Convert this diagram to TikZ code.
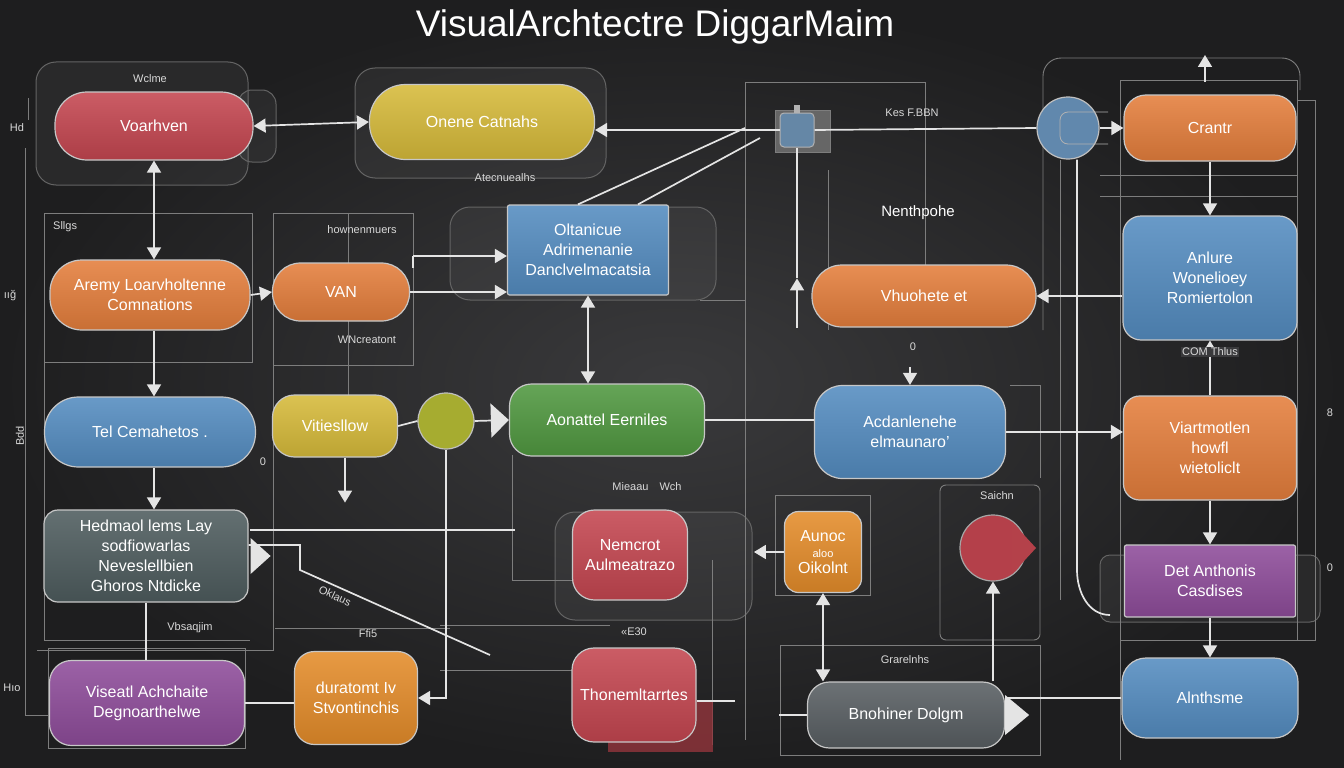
\documentclass[tikz,border=0pt]{standalone}
\usepackage{fontspec}
\setmainfont{Liberation Sans}
\usetikzlibrary{arrows.meta,positioning}
\definecolor{bgin}{RGB}{58,58,60}
\definecolor{bgout}{RGB}{30,30,31}
\definecolor{cRed}{RGB}{196,70,80}
\definecolor{cYel}{RGB}{214,186,58}
\definecolor{cOra}{RGB}{228,126,60}
\definecolor{cAmb}{RGB}{228,140,42}
\definecolor{cBlu}{RGB}{84,140,192}
\definecolor{cGrn}{RGB}{80,152,64}
\definecolor{cPur}{RGB}{142,76,154}
\definecolor{cSla}{RGB}{78,92,94}
\definecolor{cGry}{RGB}{88,94,98}
\definecolor{cOli}{RGB}{166,172,48}
\definecolor{wirec}{RGB}{228,228,228}
\definecolor{faint}{RGB}{125,125,125}

\begin{document}
\begin{tikzpicture}[x=1pt,y=-1pt,
    box/.style={rectangle,rounded corners=16pt,draw=white!78!black,line width=1.2pt,
      top color=#1!88!white,bottom color=#1!88!black,text=white,align=center,
      inner sep=2pt,font=\fontsize{16}{20}\selectfont},
    wire/.style={draw=wirec,line width=1.7pt},
    arr/.style={wire,-{Triangle[length=12pt,width=14pt]}},
    darr/.style={wire,{Triangle[length=12pt,width=14pt]}-{Triangle[length=12pt,width=14pt]}},
    frame/.style={draw=faint,line width=0.9pt},
    shell/.style={draw=faint!80!black,fill=white,fill opacity=0.05,rounded corners=20pt,line width=1pt},
    tag/.style={text=white!85!black,font=\fontsize{11}{13}\selectfont,inner sep=1pt}]

  \useasboundingbox (0,0) rectangle (1344,768);
  \shade[inner color=bgin,outer color=bgout] (0,0) rectangle (1344,768);

  \node[text=white,font=\fontsize{37}{40}\selectfont] (title) at (655,27) {VisualArchtectre DiggarMaim};

  \draw[shell] (36,62) rectangle (248,185);
  \draw[shell,rounded corners=14pt] (238,90) rectangle (276,162);
  \draw[shell] (355,68) rectangle (606,178);
  \draw[shell] (450,207) rectangle (716,300);
  \draw[shell] (555,512) rectangle (752,620);
  \draw[shell,rounded corners=10pt] (1100,555) rectangle (1320,622);
  \draw[frame] (25,148) -- (25,715) -- (50,715);
  \draw[frame] (28,98) -- (28,120);
  \draw[frame] (44,213) rectangle (252,362);
  \draw[frame] (44,362) -- (44,640) -- (250,640);
  \draw[frame] (273,213) rectangle (413,365);
  \draw[frame] (273,365) -- (273,650) -- (37,650);
  \draw[frame] (348,213) -- (348,395);
  \draw[frame] (48,648) rectangle (245,748);
  \draw[frame] (745,82) -- (925,82) -- (925,265);
  \draw[frame] (745,82) -- (745,740);
  \draw[frame] (828,170) -- (828,330);
  \draw[frame,rounded corners=18pt] (1043,330) -- (1043,58) -- (1300,58) -- (1300,90);
  \draw[frame] (1120,80) rectangle (1297,640);
  \draw[frame] (1297,100) -- (1315,100) -- (1315,640) -- (1297,640);
  \draw[frame] (1120,640) -- (1120,760);
  \draw[frame] (1100,175) -- (1297,175);
  \draw[frame] (1100,196) -- (1297,196);
  \draw[frame,rounded corners=6pt] (940,485) rectangle (1040,640);
  \draw[frame] (775,495) rectangle (870,595);
  \draw[frame] (780,645) rectangle (1040,755);
  \draw[frame] (512,455) -- (512,580) -- (575,580);
  \draw[frame] (440,625) -- (610,625);
  \draw[frame] (440,670) -- (575,670);
  \draw[frame] (700,300) -- (745,300);
  \draw[frame] (712,560) -- (712,745);
  \draw[frame] (275,628) -- (450,628);
  \draw[frame] (1060,160) -- (1060,600);
  \draw[frame] (1010,385) -- (1040,385) -- (1040,478);
  \fill[cRed!75!black,opacity=0.8] (608,700) rectangle (713,752);

  \node[box=cRed,rounded corners=32pt,minimum width=198pt,minimum height=68pt] (voar) at (154,126) {Voarhven};
  \node[box=cYel,rounded corners=36pt,minimum width=225pt,minimum height=75pt] (onen) at (482,122) {Onene Catnahs};
  \node[box=cOra,rounded corners=22pt,minimum width=172pt,minimum height=66pt] (cant) at (1210,128) {Crantr};
  \node[box=cOra,rounded corners=32pt,minimum width=200pt,minimum height=70pt] (aremy) at (150,295) {Aremy Loarvholtenne\\Comnations};
  \node[box=cOra,rounded corners=28pt,minimum width=137pt,minimum height=58pt] (van) at (341,292) {VAN};
  \node[box=cBlu,rounded corners=2pt,minimum width=161pt,minimum height=90pt] (olt) at (588,250) {Oltanicue\\Adrimenanie\\Danclvelmacatsia};
  \node[box=cOra,rounded corners=30pt,minimum width=224pt,minimum height=62pt] (vhu) at (924,296) {Vhuohete et};
  \node[box=cBlu,rounded corners=18pt,minimum width=174pt,minimum height=124pt] (anl) at (1210,278) {Anlure\\Wonelioey\\Romiertolon};
  \node[box=cBlu,rounded corners=34pt,minimum width=211pt,minimum height=70pt] (tel) at (150,432) {Tel Cemahetos .};
  \node[box=cYel,rounded corners=22pt,minimum width=125pt,minimum height=62pt] (vit) at (335,426) {Vitiesllow};
  \node[circle,draw=white!75!black,line width=1.2pt,fill=cOli,minimum size=56pt,inner sep=0pt] (oli) at (446,421) {};
  \node[box=cGrn,rounded corners=22pt,minimum width=195pt,minimum height=72pt] (aon) at (607,420) {Aonattel Eerniles};
  \node[box=cBlu,rounded corners=28pt,minimum width=191pt,minimum height=93pt] (acd) at (910,432) {Acdanlenehe\\elmaunaro'};
  \node[box=cOra,rounded corners=16pt,minimum width=173pt,minimum height=104pt] (via) at (1210,448) {Viartmotlen\\howfl\\wietoliclt};
  \node[box=cSla,rounded corners=14pt,minimum width=204pt,minimum height=92pt] (hed) at (146,556) {Hedmaol lems Lay\\sodfiowarlas\\Neveslellbien\\Ghoros Ntdicke};
  \node[box=cRed,rounded corners=22pt,minimum width=115pt,minimum height=90pt] (nem) at (630,555) {Nemcrot\\Aulmeatrazo};
  \node[box=cAmb,rounded corners=14pt,minimum width=77pt,minimum height=81pt] (aun) at (823,552) {Aunoc\\[-4pt]{\fontsize{11}{12}\selectfont aloo}\\[-4pt]Oikolnt};
  \node[circle,draw=white!65!black,line width=1.2pt,fill=cRed!92!black,minimum size=66pt,inner sep=0pt] (rcirc) at (993,548) {};
  \node[box=cPur,rounded corners=2pt,minimum width=171pt,minimum height=72pt] (det) at (1210,581) {Det Anthonis\\Casdises};
  \node[box=cPur,rounded corners=22pt,minimum width=195pt,minimum height=85pt] (vis) at (147,703) {Viseatl Achchaite\\Degnoarthelwe};
  \node[box=cAmb,rounded corners=20pt,minimum width=123pt,minimum height=93pt] (dur) at (356,698) {duratomt Iv\\Stvontinchis};
  \node[box=cRed,rounded corners=22pt,minimum width=124pt,minimum height=94pt] (tho) at (634,695) {Thonemltarrtes};
  \node[box=cGry,rounded corners=22pt,minimum width=197pt,minimum height=66pt] (boo) at (906,715) {Bnohiner Dolgm};
  \node[box=cBlu,rounded corners=24pt,minimum width=176pt,minimum height=80pt] (alt) at (1210,698) {Alnthsme};

  \node[circle,draw=white!75!black,line width=1.2pt,fill=cBlu!70!gray,minimum size=62pt,inner sep=0pt] (bcirc) at (1068,128) {};
  \draw[white!70!black,line width=0.8pt,rounded corners=8pt] (1108,112) -- (1060,112) -- (1060,144) -- (1108,144);
  \draw[frame,fill=black!60] (775,110) rectangle (830,152);
  \node[draw=white!70!black,fill=cBlu!60!gray,rounded corners=4pt,minimum width=34pt,minimum height=34pt,line width=1pt] (dev) at (797,130) {};
  \fill[white!70!black] (794,105) rectangle (800,113);
  \fill[cRed!92!black] (1012,522) -- (1036,548) -- (1012,574) -- cycle;

  \fill[wirec] (hed.east) ++(2,-18) -- ++(20,18) -- ++(-20,18) -- cycle;
  \fill[wirec] (boo.east) ++(0,-20) -- ++(24,20) -- ++(-24,20) -- cycle;

  \coordinate (knee) at (745,128);
  \coordinate (vtop) at (413,256);
  \coordinate (h1) at (250,530);
  \coordinate (h2) at (300,545);
  \draw[darr] (voar.east) -- (onen.west);
  \draw[darr] (voar.south) -- (voar.south |- aremy.north);
  \draw[arr] (voar.south |- aremy.south) -- (voar.south |- tel.north);
  \draw[arr] (voar.south |- tel.south) -- (voar.south |- hed.north);
  \draw[wire] (hed.south) -- (hed.south |- vis.north);
  \draw[arr] (aremy.east) -- (van.west);
  \draw[arr] (van.east) -- (van.east -| olt.west);
  \draw[arr] (vtop) -- (vtop -| olt.west);
  \draw[wire] (vtop) -- ++(0,12);
  \draw[darr] (olt.south) -- (olt.south |- aon.north);
  \draw[wire] (vit.east) -- (oli.west);
  \draw[wire,-{Triangle[length=18pt,width=34pt]}] (oli.east) -- (aon.west);
  \draw[arr] ([xshift=10pt]vit.south) -- ++(0,45);
  \draw[wire] (aon.east) -- (aon.east -| acd.west);
  \draw[arr] (acd.east) -- (acd.east -| via.west);
  \draw[arr] (cant.south) -- (anl.north);
  \draw[arr] (via.north) -- (anl.south);
  \draw[arr] (via.south) -- (det.north);
  \draw[arr] (det.south) -- (alt.north);
  \draw[arr] (anl.west |- vhu.east) -- (vhu.east);
  \draw[arr] (bcirc.east) -- (bcirc.east -| cant.west);
  \draw[wire] (bcirc.west) -- (dev.east);
  \draw[arr] (dev.west) -- (dev.west -| onen.east);
  \draw[wire] (knee) -- ([xshift=-10pt]olt.north);
  \draw[wire] (knee) ++(15,10) -- ([xshift=50pt]olt.north);
  \draw[arr] (dev.south |- vhu.south) -- ([yshift=-14pt]dev.south |- vhu.north);
  \draw[wire] (dev.south) -- ([yshift=-14pt]dev.south |- vhu.north);
  \draw[arr] ([yshift=18pt]acd.north) -- (acd.north);
  \draw[wire] (alt.west) -- (alt.west -| boo.east);
  \draw[wire] (boo.west) -- ++(-28,0);
  \draw[darr] (aun.south |- boo.north) -- (aun.south);
  \draw[arr] (rcirc.south |- boo.north) -- (rcirc.south);
  \draw[arr] (aun.west) -- ++(-30,0);
  \draw[wire] (h1) -- (515,530);
  \draw[wire] (hed.east |- h2) -- (h2) -- ++(0,25) -- (490,655);
  \draw[arr] (oli.south) |- (dur.east);
  \draw[wire] (vis.east) -- (vis.east -| dur.west);
  \draw[wire] ([yshift=-6pt]tho.east) -- ++(38,0);
  \draw[wire] (1205,82) -- (1205,62);
  \draw[arr] (1205,70) -- (1205,55);
  \draw[wire] (bcirc.south) ++(9,0) -- (1077,570) to[out=-90,in=180] (1110,615);

  \node[tag] at (150,79) {Wclme};
  \node[tag] at (17,128) {Hd};
  \node[tag,anchor=west] at (52,227) {Sllgs};
  \node[tag] at (362,230) {hownenmuers};
  \node[tag] at (505,178) {Atecnuealhs};
  \node[tag] at (912,113) {Kes F.BBN};
  \node[text=white,font=\fontsize{15}{18}\selectfont] at (918,213) {Nenthpohe};
  \node[tag] at (367,340) {WNcreatont};
  \node[tag,fill=bgin] at (1210,352) {COM Thlus};
  \node[tag] at (913,347) {0};
  \node[tag] at (647,487) {Mieaau\quad Wch};
  \node[tag] at (997,496) {Saichn};
  \node[tag,rotate=-25] at (335,596) {Oklaus};
  \node[tag] at (190,628) {Vbsaqjim};
  \node[tag] at (368,634) {Ffi5};
  \node[tag] at (634,632) {«E30};
  \node[tag] at (905,660) {Grarelnhs};
  \node[tag] at (10,296) {ıığ};
  \node[tag,rotate=90] at (20,436) {Bdd};
  \node[tag] at (12,688) {Hıo};
  \node[tag] at (263,462) {0};
  \node[tag] at (1330,413) {8};
  \node[tag] at (1330,568) {0};
\end{tikzpicture}
\end{document}
